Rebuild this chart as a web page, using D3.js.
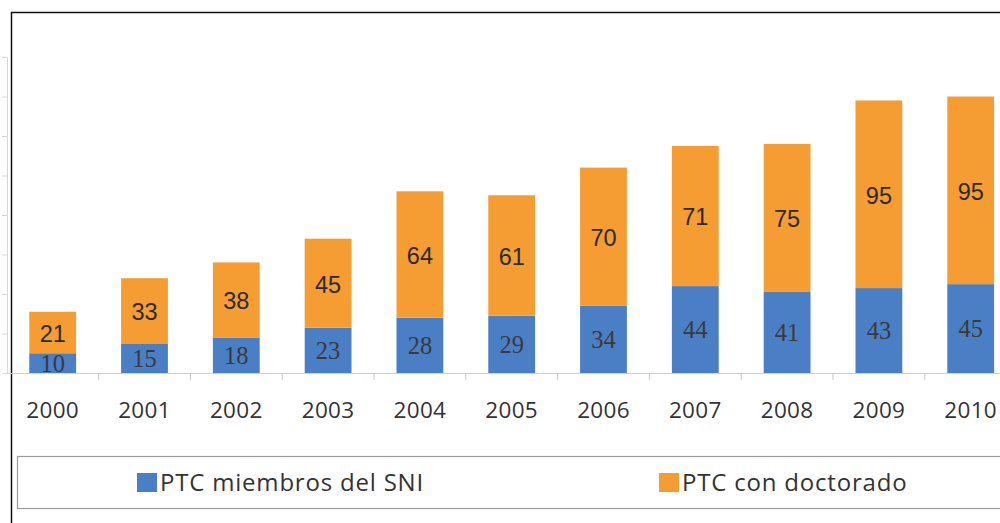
<!DOCTYPE html>
<html>
<head>
<meta charset="utf-8">
<script src="https://cdn.jsdelivr.net/npm/d3@7"></script>
<style>
  body { margin: 0; background: #fff; }
  svg { display: block; }
</style>
</head>
<body>
<svg id="chart" width="1000" height="523"></svg>
<script>
// data
const years = ["2000", "2001", "2002", "2003", "2004", "2005", "2006", "2007", "2008", "2009", "2010"];
const sniValues = [10, 15, 18, 23, 28, 29, 34, 44, 41, 43, 45];
const doctorValues = [21, 33, 38, 45, 64, 61, 70, 71, 75, 95, 95];
const seriesNames = ["PTC miembros del SNI", "PTC con doctorado"];
const yTicks = [0, 20, 40, 60, 80, 100, 120, 140, 160];

const width = 1000;
const height = 523;
const blue = "#4a7fc6";
const orange = "#f59d33";

const svg = d3.select("#chart");

// outer black frame (cut by the picture edge)
svg.append("rect")
  .attr("x", 11.5).attr("y", 12.5)
  .attr("width", 1000).attr("height", 520)
  .attr("fill", "none")
  .attr("stroke", "#111")
  .attr("stroke-width", 1.5);

const step = 91.8;
const x = d3.scaleBand()
  .domain(years)
  .range([6.8, 6.8 + years.length * step])
  .paddingInner(0.49)
  .paddingOuter(0.245);

const y = d3.scaleLinear()
  .domain([0, 160])
  .range([373, 57]);

// y axis (no labels)
const yAxis = d3.axisLeft(y).tickValues(yTicks).tickFormat("").tickSize(5).tickSizeOuter(0);
svg.append("g")
  .attr("transform", "translate(7,0)")
  .call(yAxis)
  .call(g => g.selectAll("path, line").attr("stroke", "#d6d6d6"));

const rows = years.map((yr, i) => ({ year: yr, sni: sniValues[i], doc: doctorValues[i] }));

// bars
const bars = svg.append("g");
bars.selectAll(".sni")
  .data(rows)
  .join("rect")
  .attr("class", "sni")
  .attr("x", d => x(d.year))
  .attr("width", x.bandwidth())
  .attr("y", d => y(d.sni))
  .attr("height", d => y(0) - y(d.sni))
  .attr("fill", blue);

bars.selectAll(".doc")
  .data(rows)
  .join("rect")
  .attr("class", "doc")
  .attr("x", d => x(d.year))
  .attr("width", x.bandwidth())
  .attr("y", d => y(d.sni + d.doc))
  .attr("height", d => y(d.sni) - y(d.sni + d.doc))
  .attr("fill", orange);

// x axis: baseline, boundary ticks, year labels
const xg = svg.append("g");
xg.append("line")
  .attr("x1", x.range()[0]).attr("x2", x.range()[1])
  .attr("y1", y(0) + 0.5).attr("y2", y(0) + 0.5)
  .attr("stroke", "#d0d0d0");
xg.selectAll(".btick")
  .data(years.slice(1))
  .join("line")
  .attr("class", "btick")
  .attr("x1", d => x(d) - x.step() * x.paddingInner() / 2)
  .attr("x2", d => x(d) - x.step() * x.paddingInner() / 2)
  .attr("y1", y(0)).attr("y2", y(0) + 7)
  .attr("stroke", "#c8c8c8");
xg.selectAll(".ylab")
  .data(years)
  .join("text")
  .attr("class", "ylab")
  .attr("x", d => x(d) + x.bandwidth() / 2)
  .attr("y", 418)
  .attr("text-anchor", "middle")
  .attr("font-family", "'Open Sans', Lato, sans-serif")
  .attr("font-size", 22.5)
  .attr("letter-spacing", 0.3)
  .attr("fill", "#333")
  .text(d => d);

// value labels
svg.selectAll(".lab-doc")
  .data(rows)
  .join("text")
  .attr("class", "lab-doc")
  .attr("x", d => x(d.year) + x.bandwidth() / 2)
  .attr("y", d => (y(d.sni) + y(d.sni + d.doc)) / 2 + 1)
  .attr("dy", "0.36em")
  .attr("text-anchor", "middle")
  .attr("font-family", "'Liberation Sans', Arial, sans-serif")
  .attr("font-size", 23.5)
  .attr("fill", "#2a2a2a")
  .text(d => d.doc);

svg.selectAll(".lab-sni")
  .data(rows)
  .join("text")
  .attr("class", "lab-sni")
  .attr("x", d => x(d.year) + x.bandwidth() / 2)
  .attr("y", d => (y(0) + y(d.sni)) / 2)
  .attr("dy", "0.36em")
  .attr("text-anchor", "middle")
  .attr("font-family", "'Liberation Serif', serif")
  .attr("font-size", 24.5)
  .attr("fill", "#3a3a3a")
  .text(d => d.sni);

// legend
const legend = svg.append("g");
legend.append("rect")
  .attr("x", 17.5).attr("y", 456.5)
  .attr("width", 1000).attr("height", 52)
  .attr("fill", "none")
  .attr("stroke", "#9a9a9a")
  .attr("stroke-width", 1.2);

const legendItems = [
  { name: seriesNames[0], color: blue, x: 137 },
  { name: seriesNames[1], color: orange, x: 659 }
];
const li = legend.selectAll(".item")
  .data(legendItems)
  .join("g")
  .attr("class", "item")
  .attr("transform", d => `translate(${d.x},473)`);
li.append("rect")
  .attr("width", 20).attr("height", 19)
  .attr("fill", d => d.color);
li.append("text")
  .attr("x", 23)
  .attr("y", 17.5)
  .attr("font-family", "'Open Sans', Lato, sans-serif")
  .attr("font-size", 24)
  .attr("letter-spacing", 0.8)
  .attr("fill", "#333")
  .text(d => d.name);
</script>
</body>
</html>
